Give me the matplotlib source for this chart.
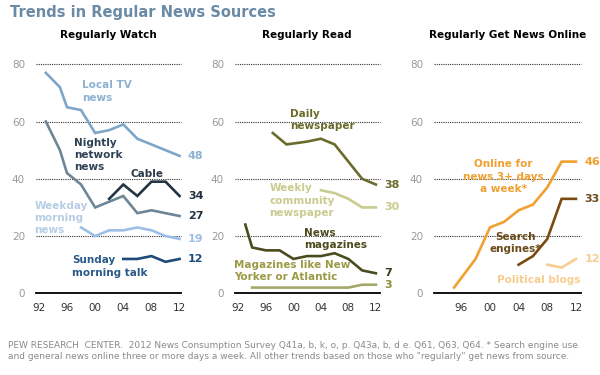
import matplotlib
matplotlib.use("Agg")
import matplotlib.pyplot as plt

# ---- data ----
local_tv_years = [1993, 1995, 1996, 1998, 2000, 2002, 2004, 2006, 2008, 2010, 2012]
local_tv = [77, 72, 65, 64, 56, 57, 59, 54, 52, 50, 48]
nightly_years = [1993, 1995, 1996, 1998, 2000, 2002, 2004, 2006, 2008, 2010, 2012]
nightly = [60, 50, 42, 38, 30, 32, 34, 28, 29, 28, 27]
cable_years = [2002, 2004, 2006, 2008, 2010, 2012]
cable = [33, 38, 34, 39, 39, 34]
weekday_years = [1998, 2000, 2002, 2004, 2006, 2008, 2010, 2012]
weekday = [23, 20, 22, 22, 23, 22, 20, 19]
sunday_years = [2004, 2006, 2008, 2010, 2012]
sunday = [12, 12, 13, 11, 12]

daily_years = [1997, 1999, 2002, 2004, 2006, 2008, 2010, 2012]
daily = [56, 52, 53, 54, 52, 46, 40, 38]
weekly_years = [2004, 2006, 2008, 2010, 2012]
weekly = [36, 35, 33, 30, 30]
newsmag_years = [1993, 1994, 1996, 1998, 2000, 2002, 2004, 2006, 2008, 2010, 2012]
newsmag = [24, 16, 15, 15, 12, 13, 13, 14, 12, 8, 7]
literary_years = [1994, 1996, 1998, 2000, 2002, 2004, 2006, 2008, 2010, 2012]
literary = [2, 2, 2, 2, 2, 2, 2, 2, 3, 3]

online_years = [1995, 1998, 2000, 2002, 2004, 2006, 2008, 2010, 2012]
online = [2, 12, 23, 25, 29, 31, 37, 46, 46]
search_years = [2004, 2006, 2008, 2010, 2012]
search = [10, 13, 19, 33, 33]
blogs_years = [2008, 2010, 2012]
blogs = [10, 9, 12]

tick_years = [1992, 1996, 2000, 2004, 2008, 2012]
tick_labels = ["92", "96", "00", "04", "08", "12"]

W, H = 600, 375
fig = plt.figure(figsize=(6, 3.75), dpi=100)
plt.rcParams['font.family'] = ['DejaVu Sans']


def px_axes(left, right, top, bottom):
    return fig.add_axes([left / W, 1 - bottom / H, (right - left) / W, (bottom - top) / H])


def setup(ax, xlim, ticks, labels):
    ax.set_xlim(*xlim)
    ax.set_ylim(0, 80)
    for s in ax.spines.values():
        s.set_visible(False)
    for v in [20, 40, 60, 80]:
        ax.axhline(v, color='#333333', lw=0.8, ls=(0, (1, 1)), zorder=1, clip_on=False)
    ax.axhline(0, color='black', lw=1.3, zorder=1, clip_on=False)
    ax.set_yticks([0, 20, 40, 60, 80])
    ax.set_yticklabels(['0', '20', '40', '60', '80'], color='#9a9a9a', fontsize=7.5)
    ax.set_xticks(ticks)
    ax.set_xticklabels(labels, color='#333333', fontsize=7.5)
    ax.tick_params(length=0, pad=7)
    ax.tick_params(axis='y', pad=8)
    ax.patch.set_alpha(0)


def series(ax, x, y, color, label, lab_color):
    ax.plot(x, y, color=color, lw=1.9, zorder=3, solid_joinstyle='miter', clip_on=False)
    ax.annotate(label, (x[-1], y[-1]), xytext=(6, 0), textcoords='offset points',
                ha='left', va='center', fontsize=8, fontweight='bold', color=lab_color)


def note(ax, x, y, s, color, ha='left'):
    ax.text(x, y, s, ha=ha, va='center', fontsize=7.5, fontweight='bold', color=color,
            linespacing=1.3, multialignment=ha, zorder=4)


top, bottom = 64.3, 293.3

# Panel 1: Regularly Watch
ax1 = px_axes(36, 181, top, bottom)
setup(ax1, (1991.6, 2012.2), tick_years, tick_labels)
series(ax1, local_tv_years, local_tv, '#7ea6c9', '48', '#8eb1d1')
series(ax1, nightly_years, nightly, '#6e8696', '27', '#233040')
series(ax1, cable_years, cable, '#233445', '34', '#233040')
series(ax1, weekday_years, weekday, '#9dbfe6', '19', '#9dbfe6')
series(ax1, sunday_years, sunday, '#1f4a7c', '12', '#1f4a7c')
note(ax1, 1998.2, 70.5, 'Local TV\nnews', '#8eb1d1')
note(ax1, 1997.0, 48.3, 'Nightly\nnetwork\nnews', '#2f4255')
note(ax1, 2005.0, 41.7, 'Cable', '#2a3a4a')
note(ax1, 1991.4, 26.3, 'Weekday\nmorning\nnews', '#b7cde6')
note(ax1, 1996.7, 9.4, 'Sunday\nmorning talk', '#2b5a8a')

# Panel 2: Regularly Read
ax2 = px_axes(235, 380, top, bottom)
setup(ax2, (1991.5, 2012.6), tick_years, tick_labels)
series(ax2, daily_years, daily, '#6b6b2c', '38', '#6b6b2c')
series(ax2, weekly_years, weekly, '#c9cc8f', '30', '#c9cc8f')
series(ax2, newsmag_years, newsmag, '#4a4c20', '7', '#3a3c18')
series(ax2, literary_years, literary, '#a3a86a', '3', '#8c8c3a')
note(ax2, 1999.5, 60.5, 'Daily\nnewspaper', '#6b6a2a')
note(ax2, 1996.5, 32.4, 'Weekly\ncommunity\nnewspaper', '#c9cb8f')
note(ax2, 2001.6, 18.9, 'News\nmagazines', '#4b4b1e')
note(ax2, 1991.4, 7.8, 'Magazines like New\nYorker or Atlantic', '#9c9a45')

# Panel 3: Regularly Get News Online
ax3 = px_axes(434, 581, top, bottom)
setup(ax3, (1992.2, 2012.7), tick_years[1:], tick_labels[1:])
series(ax3, online_years, online, '#f0a030', '46', '#f0a030')
series(ax3, search_years, search, '#7a4a10', '33', '#6b4a1a')
series(ax3, blogs_years, blogs, '#f7cc90', '12', '#f7cc90')
note(ax3, 2001.9, 40.7, 'Online for\nnews 3+ days\na week*', '#f0a030', ha='center')
note(ax3, 2003.5, 17.6, 'Search\nengines*', '#6b4a1a', ha='center')
note(ax3, 2001.0, 4.7, 'Political blogs', '#f7cd8f')

# titles
fig.text(10 / W, 1 - 12 / H, 'Trends in Regular News Sources', fontsize=10.5,
         fontweight='bold', color='#6a8aa5', ha='left', va='center')
for cx, t in [(108, 'Regularly Watch'), (307, 'Regularly Read'), (508, 'Regularly Get News Online')]:
    fig.text(cx / W, 1 - 35 / H, t, fontsize=7.5, fontweight='bold', color='black',
             ha='center', va='center')

fig.text(8 / W, 1 - 351 / H,
         'PEW RESEARCH  CENTER.  2012 News Consumption Survey Q41a, b, k, o, p. Q43a, b, d e. Q61, Q63, Q64. * Search engine use\n'
         'and general news online three or more days a week. All other trends based on those who "regularly" get news from source.',
         fontsize=6.5, color='#8a8a8a', ha='left', va='center', linespacing=1.2)

fig.savefig('out.png', dpi=100)
